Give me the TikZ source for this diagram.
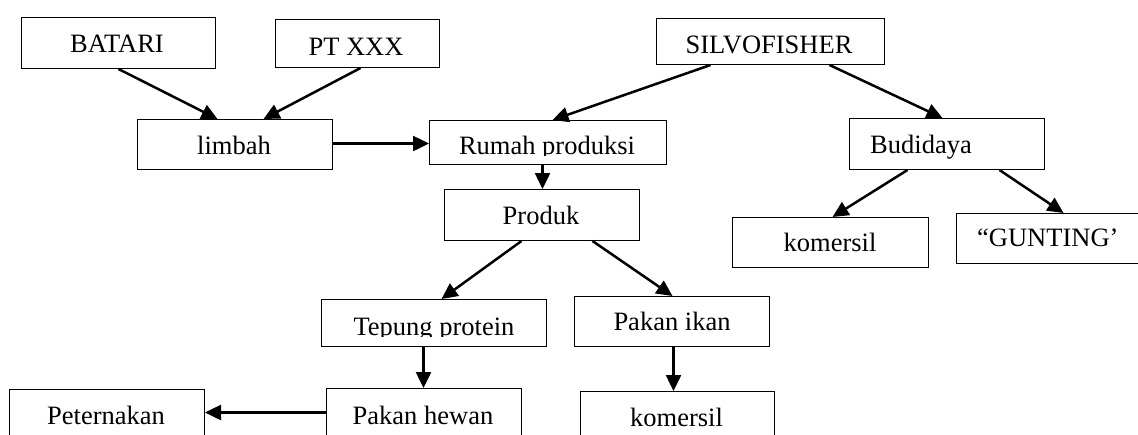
\documentclass[tikz,border=0pt]{standalone}
\usepackage{fontspec}
\setmainfont{Liberation Serif}
\usetikzlibrary{arrows.meta}
\begin{document}
\begin{tikzpicture}[x=1pt,y=-1pt,
  box/.style={draw=black, line width=1pt, inner sep=0pt, anchor=north west},
  txt/.style={inner sep=0pt, anchor=base, font=\fontsize{26.5}{30}\selectfont},
  arr/.style={line width=2.5pt, -{Triangle[length=16pt,width=15pt]}}]
\useasboundingbox (0,0) rectangle (1138,434);
\clip (0,0) rectangle (1138,434);
% boxes
\node[box, minimum width=194pt, minimum height=51pt] (batari) at (21,17) {};
\node[box, minimum width=164pt, minimum height=48pt] (ptxxx) at (275,19) {};
\node[box, minimum width=195pt, minimum height=50pt] (limbah) at (137,119) {};
\node[box, minimum width=237pt, minimum height=44pt] (rumah) at (429,120) {};
\node[box, minimum width=228pt, minimum height=46pt] (silvo) at (656,18) {};
\node[box, minimum width=195pt, minimum height=51pt] (budidaya) at (849,118) {};
\node[box, minimum width=195pt, minimum height=51pt] (produk) at (444,189) {};
\node[box, minimum width=196pt, minimum height=50pt] (komersilA) at (732,217) {};
\node[box, minimum width=196pt, minimum height=50pt] (gunting) at (956,213) {};
\node[box, minimum width=225pt, minimum height=47pt] (tepung) at (321,299) {};
\node[box, minimum width=195pt, minimum height=50pt] (pakanikan) at (574,296) {};
\node[box, minimum width=195pt, minimum height=51pt] (peternakan) at (9,389) {};
\node[box, minimum width=195pt, minimum height=51pt] (pakanhewan) at (326,388) {};
\node[box, minimum width=194pt, minimum height=51pt] (komersilB) at (580,391) {};
% texts
\node[txt] (t-batari) at (117,52) {BATARI};
\node[txt] (t-ptxxx) at (356,55) {PT XXX};
\node[txt] (t-limbah) at (234,154) {limbah};
\begin{scope}
\clip (429,120) rectangle (666,155.5);
\node[txt] (t-rumah) at (547,154) {Rumah produksi};
\end{scope}
\node[txt] (t-silvo) at (769,53) {SILVOFISHER};
\node[txt, anchor=base west] (t-budidaya) at (870,153) {Budidaya};
\node[txt] (t-produk) at (541,224) {Produk};
\node[txt] (t-komersilA) at (830,251) {komersil};
\node[txt, anchor=base west] (t-gunting) at (977,246) {“GUNTING’};
\begin{scope}
\clip (321,299) rectangle (546,336.5);
\node[txt] (t-tepung) at (434,335) {Tepung protein};
\end{scope}
\node[txt] (t-pakanikan) at (672,330) {Pakan ikan};
\node[txt] (t-peternakan) at (106,424) {Peternakan};
\node[txt] (t-pakanhewan) at (423,424) {Pakan hewan};
\node[txt] (t-komersilB) at (676.5,426) {komersil};
% connectors
\draw[arr] (batari.south) -- ([xshift=-17.5pt]limbah.north);
\draw[arr] ([xshift=3pt]ptxxx.south) -- ([xshift=28.5pt]limbah.north);
\draw[arr] ([yshift=1pt]limbah.east) -- ([yshift=1pt]limbah.east -| rumah.west);
\draw[arr] ([xshift=-60pt]silvo.south) -- ([xshift=4.5pt]rumah.north);
\draw[arr] ([xshift=59pt]silvo.south) -- ([xshift=-4.5pt]budidaya.north);
\draw[arr] ([xshift=-5.5pt]rumah.south) -- ([xshift=0.5pt]produk.north);
\draw[arr] ([xshift=-39.5pt]budidaya.south) -- ([xshift=2pt]komersilA.north);
\draw[arr] ([xshift=52.5pt]budidaya.south) -- ([xshift=9pt]gunting.north);
\draw[arr] ([xshift=-20.5pt]produk.south) -- ([xshift=7.5pt]tepung.north);
\draw[arr] ([xshift=50.5pt]produk.south) -- ([xshift=0.5pt]pakanikan.north);
\draw[arr] ([xshift=-10.5pt]tepung.south) -- ([xshift=-0.5pt]pakanhewan.north);
\draw[arr] ([xshift=1.5pt]pakanikan.south) -- ([xshift=-4pt]komersilB.north);
\draw[arr] ([yshift=1.5pt]pakanhewan.west) -- ([yshift=1.5pt]pakanhewan.west -| peternakan.east);
\end{tikzpicture}
\end{document}
